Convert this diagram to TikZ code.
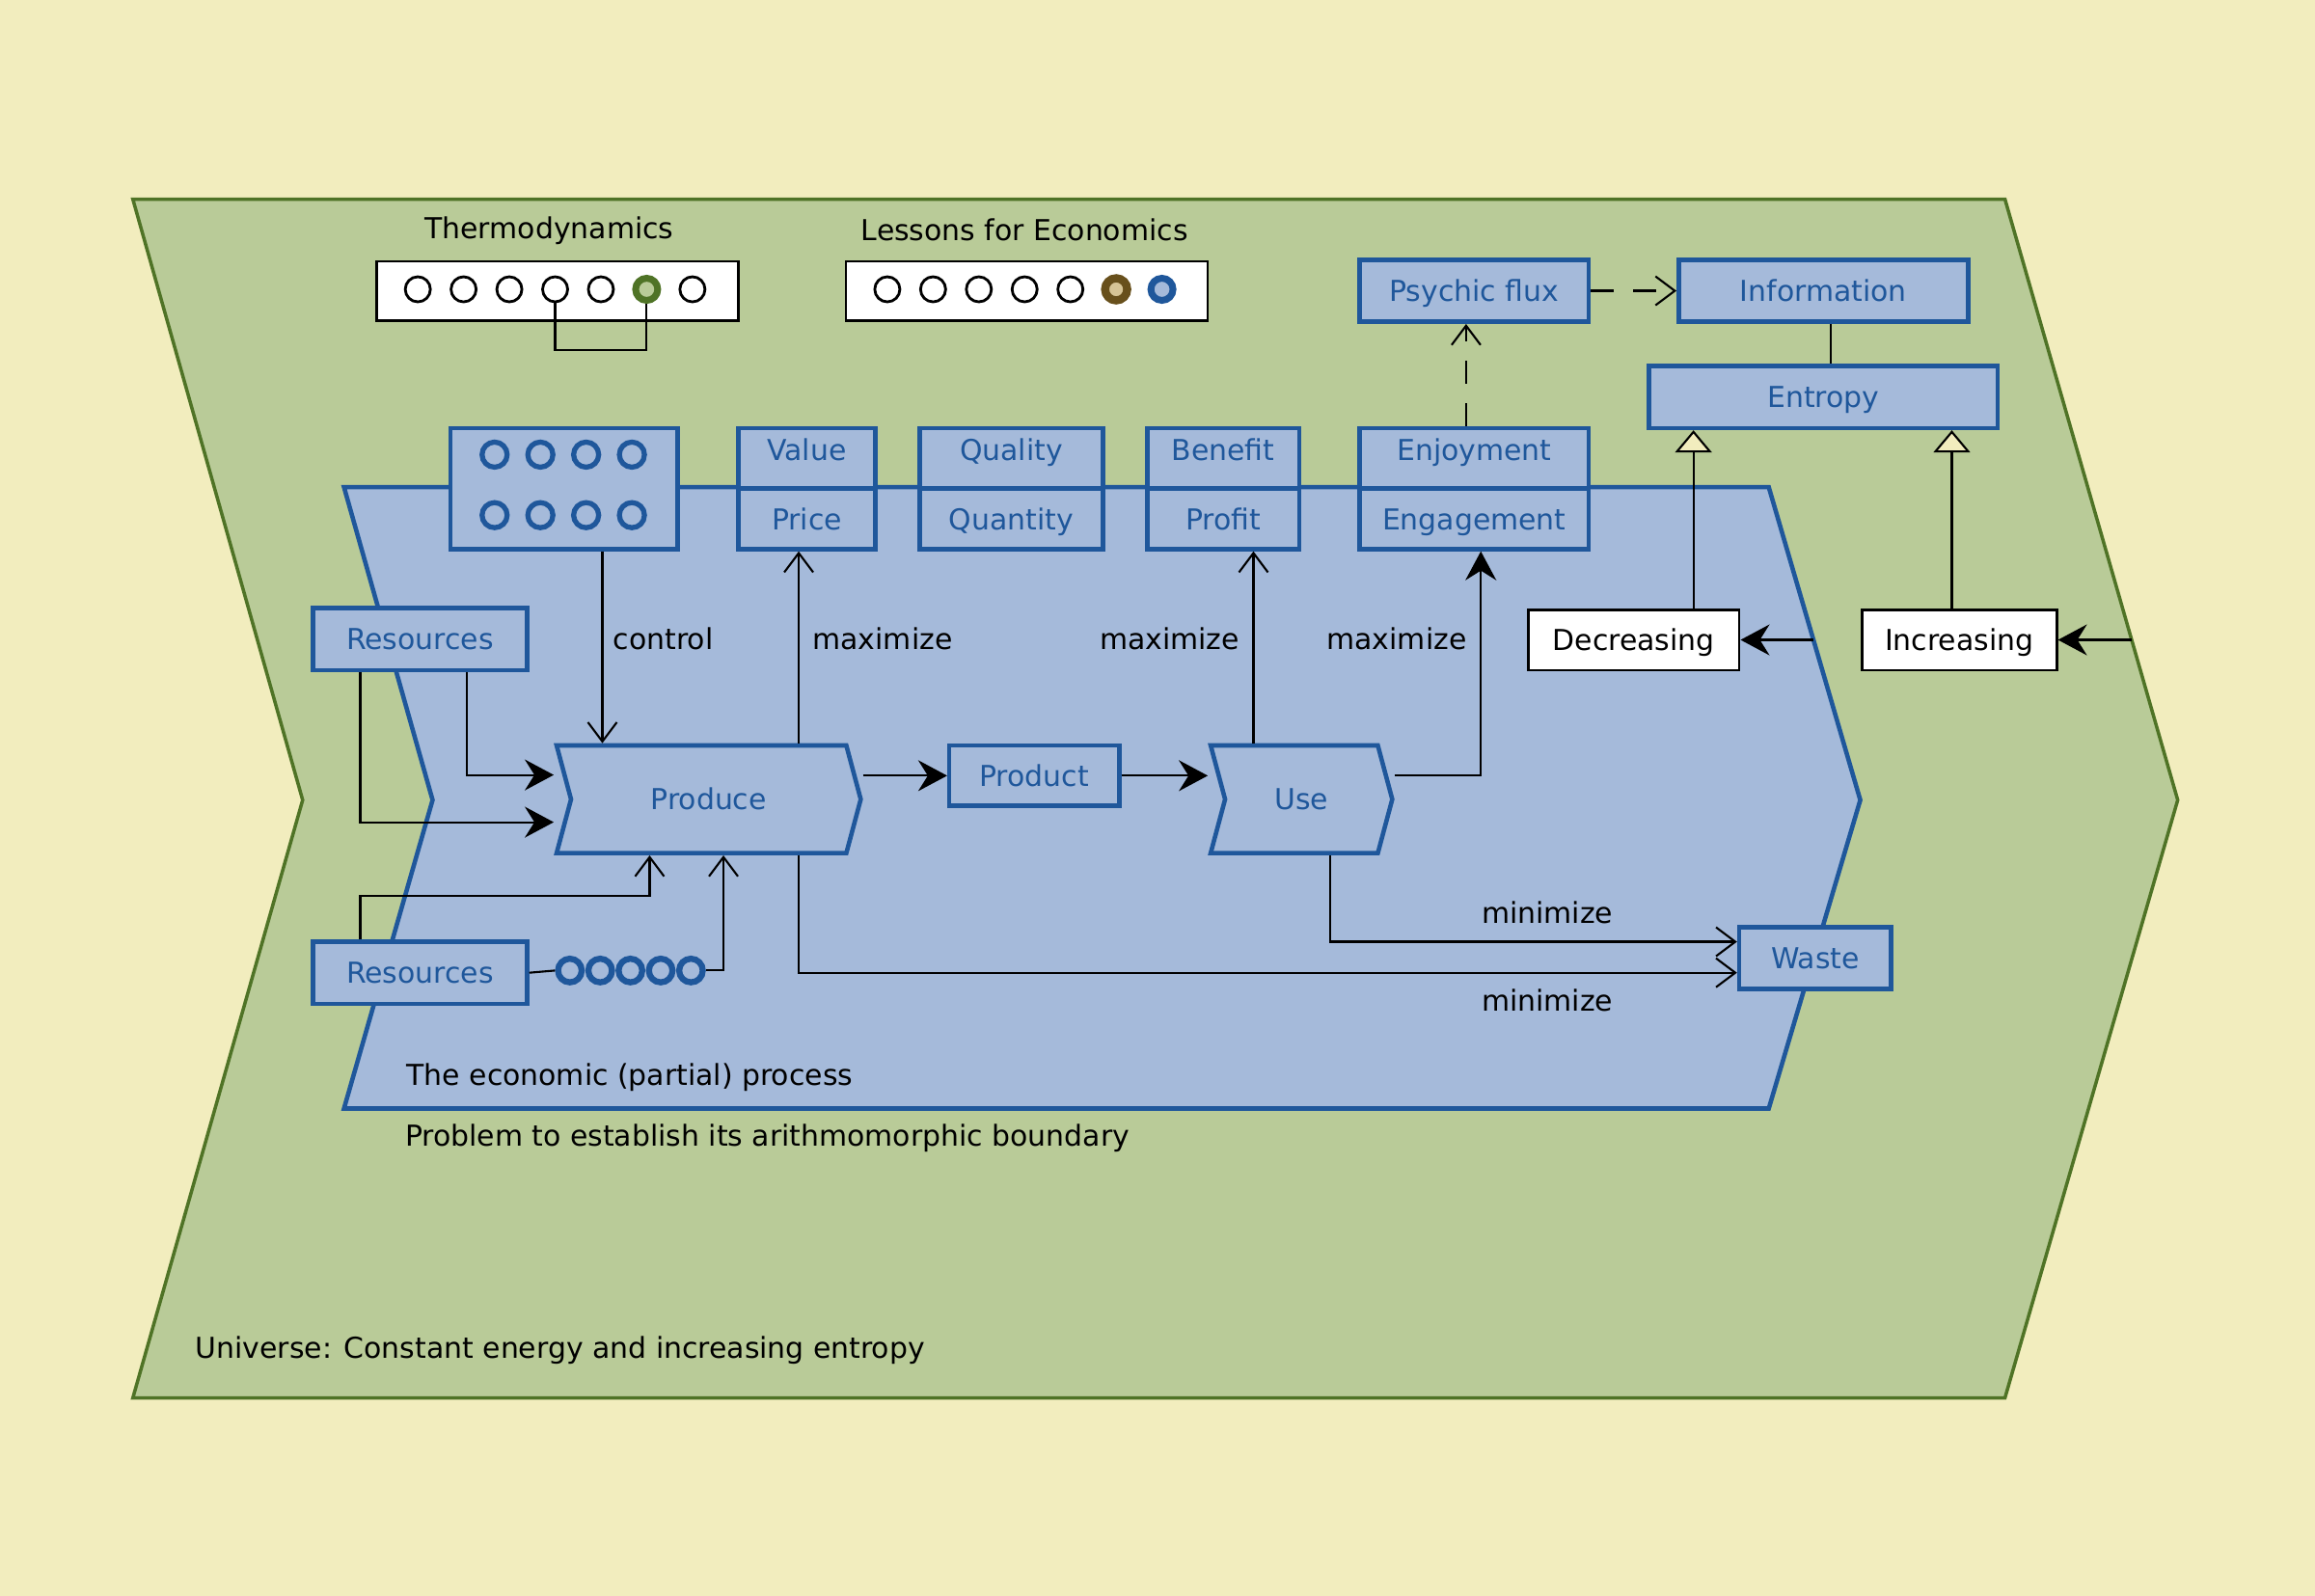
\documentclass[tikz,border=0pt]{standalone}
\usepackage{fontspec}
\setmainfont{DejaVu Sans}
\usetikzlibrary{positioning,shapes.symbols,arrows.meta}

\definecolor{cream}{RGB}{242,237,190}
\definecolor{ugreen}{RGB}{185,203,152}
\definecolor{uline}{RGB}{79,115,38}
\definecolor{bfill}{RGB}{165,186,218}
\definecolor{bline}{RGB}{31,87,155}
\definecolor{brownline}{RGB}{104,80,28}
\definecolor{tanfill}{RGB}{214,196,150}

\newcommand{\upx}{0.015306cm}

\tikzset{
  sz/.style 2 args={minimum width=#1*\upx, minimum height=#2*\upx},
  blk/.style={draw=bline, fill=bfill, line width=1.3pt, text=bline, inner sep=0pt,
    text height=8.1pt, text depth=1.8pt},
  toprow/.style={blk, text depth=6.9pt},
  wht/.style={draw=black, fill=white, line width=0.8pt, inner sep=0pt,
    text height=8.1pt, text depth=1.8pt},
  lbl/.style={inner sep=0pt},
  ringnode/.style={circle, draw=black, fill=white, line width=0.8pt, minimum size=17*\upx, inner sep=0pt},
  proc/.style={blk, signal, signal to=east, signal from=west, signal pointer angle=150},
  link/.style={line width=0.6pt},
  fil/.style={link, -{Stealth[length=0.3cm, width=0.32cm, inset=0.1cm]}},
  opn/.style={link, -{Straight Barb[length=0.2cm, width=0.3cm]}},
  gen/.style={link, -{Triangle[open, fill=cream, length=0.23cm, width=0.38cm]}},
  dsh/.style={link, dash pattern=on 2.4mm off 2mm},
}

\begin{document}
\begin{tikzpicture}[x=\upx, y=-\upx, font=\fontsize{8.5}{10}\selectfont]
  % background and the two regions
  \fill[cream] (0,0) rectangle (1568,1081);
  \filldraw[fill=ugreen, draw=uline, line width=1pt]
    (90,135) -- (1358,135) -- (1475,542) -- (1358,947) -- (90,947) -- (205,542) -- cycle;
  \filldraw[fill=bfill, draw=bline, line width=1.3pt]
    (233,330) -- (1198,330) -- (1260,542) -- (1198,751) -- (233,751) -- (293,542) -- cycle;

  % Thermodynamics and lessons
  \node[lbl] (lthermo) at (372,156) {Thermodynamics};
  \node[lbl] (llesson) at (694,156) {Lessons for Economics};
  \node[wht, sz={245}{40}] (thermo) at (377.5,197) {};
  \node[wht, sz={245}{40}] (lessons) at (695.5,197) {};
  \foreach \i in {1,2,3,4,5,7}
    \node[ringnode] (t\i) at ({252+31*\i},196) {};
  \node[ringnode, draw=uline, fill=ugreen, line width=2pt, minimum size=15*\upx] (t6) at (438,196) {};
  \draw[link] (t4.south) -- ++(0,32) -| (t6.south);
  \foreach \i in {1,...,5}
    \node[ringnode] (e\i) at ({570+31*\i},196) {};
  \node[ringnode, draw=brownline, fill=tanfill, line width=2.4pt, minimum size=15*\upx] (e6) at (756,196) {};
  \node[ringnode, draw=bline, fill=bfill, line width=2pt, minimum size=15*\upx] (e7) at (787,196) {};

  % upper boxes
  \node[blk, sz={155}{42}] (psyflux) at (998.5,197) {Psychic flux};
  \node[blk, sz={196}{42}] (info) at (1235,197) {Information};
  \node[blk, sz={236}{42}] (entropy) at (1235,269) {Entropy};
  \node[blk, sz={154}{82}] (ctrlbox) at (382,331) {};
  \foreach \cx in {335,366,397,428}
    \foreach \cy in {308,349}
      \draw[bline, line width=1.5pt] (\cx,\cy) circle[radius=8.5*\upx];
  \node[toprow, sz={93}{41}] (value) at (546.5,310.5) {Value};
  \node[blk, sz={93}{41}] (price) at (546.5,351.5) {Price};
  \node[toprow, sz={124}{41}] (quality) at (685,310.5) {Quality};
  \node[blk, sz={124}{41}] (quantity) at (685,351.5) {Quantity};
  \node[toprow, sz={103}{41}] (benefit) at (828.5,310.5) {Benefit};
  \node[blk, sz={103}{41}] (profit) at (828.5,351.5) {Profit};
  \node[toprow, sz={155}{41}] (enjoy) at (998.5,310.5) {Enjoyment};
  \node[blk, sz={155}{41}] (engage) at (998.5,351.5) {Engagement};

  % process nodes
  \node[blk, sz={145}{42}] (resA) at (284.5,433) {Resources};
  \node[blk, sz={145}{42}] (resB) at (284.5,659) {Resources};
  \node[wht, sz={143}{41}] (decr) at (1106.5,433.5) {Decreasing};
  \node[wht, sz={132}{41}] (incr) at (1327,433.5) {Increasing};
  \node[proc, sz={206}{73}] (produce) at (480,541.5) {Produce};
  \node[blk, sz={115}{41}] (product) at (700.5,525.5) {Product};
  \node[proc, sz={123}{73}] (use) at (881.5,541.5) {Use};
  \node[blk, sz={103}{42}] (waste) at (1229.5,649) {Waste};
  \foreach \i in {1,...,5}
    \node[ringnode, draw=bline, fill=none, line width=1.8pt, minimum size=16*\upx] (ch\i) at ({365.5+20.5*\i},657.5) {};

  % labels
  \node[lbl, anchor=west] (lctrl) at (415,433) {control};
  \node[lbl, anchor=west] (lmax1) at (550,433) {maximize};
  \node[lbl, anchor=east] (lmax2) at (840,433) {maximize};
  \node[lbl] (lmax3) at (946,433) {maximize};
  \node[lbl] (lmin1) at (1048,618) {minimize};
  \node[lbl] (lmin2) at (1048,678) {minimize};
  \node[lbl, anchor=west] (lproc) at (275,730) {The economic (partial) process};
  \node[lbl, anchor=west] (lprob) at (274,771) {Problem to establish its arithmomorphic boundary};
  \node[lbl, anchor=west] (luniv) at (132,915) {Universe: Constant energy and increasing entropy};

  % connectors
  \draw[opn] (ctrlbox.south -| 408,0) -- (produce.north -| 408,0);
  \draw[opn] (produce.north -| 541,0) -- (price.south -| 541,0);
  \draw[opn] (use.north -| 849,0) -- (profit.south -| 849,0);
  \draw[fil] (use.east |- product) -| (engage.south -| 1003,0);
  \draw[fil] (produce.east |- product) -- (product.west);
  \draw[fil] (product.east) -- (use.north west |- product);
  \draw[fil] (resA.south -| 316,0) |- (produce.north west |- 0,525);
  \draw[fil] (resA.south -| 244,0) |- (produce.north west |- 0,557);
  \draw[opn] (resB.north -| 244,0) |- (440,607) -- (produce.south -| 440,0);
  \draw[link] (resB.east) -- (ch1.west);
  \draw[opn] (ch5.east) -| (produce.south -| 490,0);
  \draw[opn] (produce.south -| 541,0) |- (waste.west |- 0,659);
  \draw[opn] (use.south -| 901,0) |- (waste.west |- 0,638);

  \coordinate (pedge) at (1228,433.5);
  \coordinate (uedge) at (1444,433.5);
  \draw[fil] (pedge) -- (decr.east);
  \draw[fil] (uedge) -- (incr.east);
  \draw[gen] (decr.north -| 1147,0) -- (entropy.south -| 1147,0);
  \draw[gen] (incr.north -| 1322,0) -- (entropy.south -| 1322,0);
  \draw[link] (info.south -| 1240,0) -- (entropy.north -| 1240,0);
  \draw[dsh, opn] (enjoy.north -| 993,0) -- (psyflux.south -| 993,0);
  \draw[dsh, opn] (psyflux.east) -- (info.west);
\end{tikzpicture}
\end{document}
